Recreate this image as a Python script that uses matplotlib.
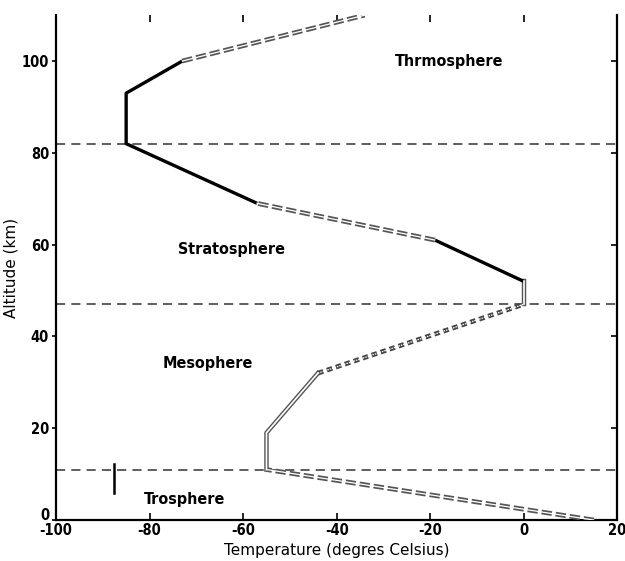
import matplotlib.pyplot as plt
import matplotlib.transforms as mtransforms

plt.rcParams['axes.unicode_minus'] = False

# standard atmosphere profile, split into the differently drawn pieces
seg_temps = [
    [15, -55],
    [-55, -55, -44],
    [-44, 0],
    [0, 0],
    [0, -19],
    [-19, -57],
    [-57, -85, -85, -73],
    [-73, -34],
]
seg_alts = [
    [0, 11],
    [11, 19, 32],
    [32, 47],
    [47, 52],
    [52, 61],
    [61, 69],
    [69, 82, 93, 100],
    [100, 110],
]
seg_styles = ['dashed', 'double', 'dotted', 'double', 'solid', 'dashed', 'solid', 'dashed']

boundaries = [11, 47, 82]
layer_names = ['Thrmosphere', 'Stratosphere', 'Mesophere', 'Trosphere']
layer_x = [-16, -62.5, -67.5, -72.5]
layer_y = [100, 59, 34, 4.5]

marker_x = [-87.5, -87.5]
marker_y = [6, 12.3]


def draw_segment(ax, xs, ys, style):
    if style == 'solid':
        ax.plot(xs, ys, color='black', lw=2.4, solid_capstyle='butt', zorder=3)
    elif style == 'double':
        ax.plot(xs, ys, color='#555555', lw=3.2, zorder=3)
        ax.plot(xs, ys, color='white', lw=1.2, zorder=4)
    elif style == 'dashed':
        ax.plot(xs, ys, color='#555555', lw=3.4, dashes=(2.2, 0.8), zorder=3)
        ax.plot(xs, ys, color='white', lw=0.9, zorder=4)
    else:
        ax.plot(xs, ys, color='#444444', lw=3.4, dashes=(1.2, 0.8), zorder=3)
        ax.plot(xs, ys, color='white', lw=0.9, dashes=(1.2, 0.8), zorder=4)


fig = plt.figure(figsize=(6.25, 5.61), dpi=100)
ax = fig.add_axes([0.0896, 0.073, 0.898, 0.9])

for xs, ys, st in zip(seg_temps, seg_alts, seg_styles):
    draw_segment(ax, xs, ys, st)

for b in boundaries:
    ax.axhline(b, color='#333333', lw=1.1, dashes=(6, 4), zorder=2)

ax.plot(marker_x, marker_y, color='black', lw=1.8)

for name, x, y in zip(layer_names, layer_x, layer_y):
    ax.text(x, y, name, ha='center', va='center', fontsize=11.5,
            fontweight='bold', fontstretch='condensed')

ax.set_xlim(-100, 20)
ax.set_ylim(0, 110)
ax.set_xticks(range(-100, 21, 20))
ax.set_yticks(range(0, 101, 20))
ax.spines['top'].set_visible(False)
for s in ['left', 'bottom', 'right']:
    ax.spines[s].set_linewidth(1.6)
ax.tick_params(axis='x', direction='in', top=True, length=5, width=1.2, pad=2)
ax.tick_params(axis='y', direction='in', right=True, length=4, width=1.2, pad=5)
for t in ax.yaxis.get_ticklines()[0::2]:
    t.set_marker(0)
    t.set_markersize(3)
for lab in ax.get_xticklabels() + ax.get_yticklabels():
    lab.set_fontstretch('condensed')
    lab.set_fontweight('bold')
    lab.set_fontsize(10.5)

# lift the "0" so it sits above the -100 label
zero_lab = ax.get_yticklabels()[0]
zero_lab.set_transform(zero_lab.get_transform() +
                       mtransforms.ScaledTranslation(0, 4 / 72, fig.dpi_scale_trans))

ax.set_xlabel('Temperature (degres Celsius)', fontsize=11, labelpad=4)
ax.set_ylabel('Altitude (km)', fontsize=11, labelpad=2)

plt.savefig('out.png', dpi=100)
